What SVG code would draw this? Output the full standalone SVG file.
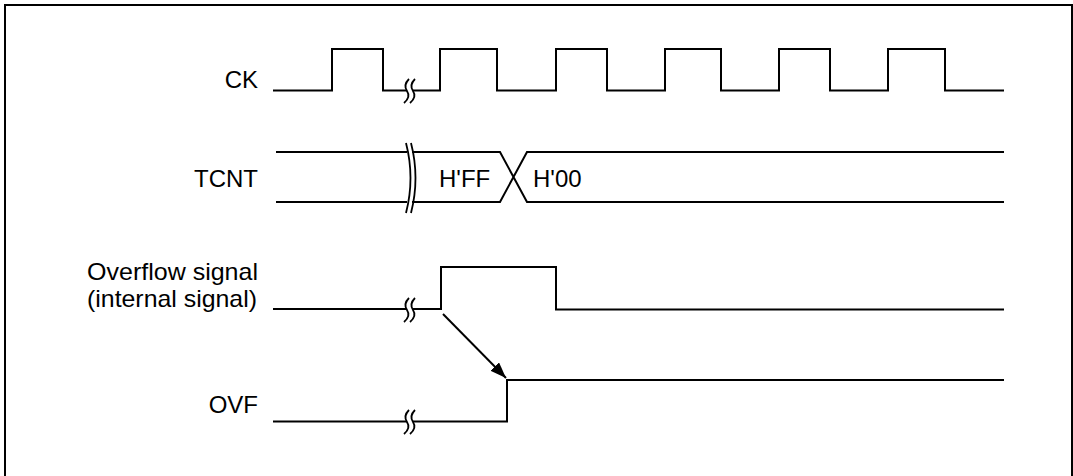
<svg xmlns="http://www.w3.org/2000/svg" width="1073" height="476" viewBox="0 0 1073 476">
<style>
.sig{fill:none;stroke:#000;stroke-width:2;stroke-linejoin:miter}
.brk{fill:none;stroke:#000;stroke-width:1.8}
.lbl{font-family:"Liberation Sans",Arial,Helvetica,sans-serif;font-size:24px;fill:#000}
.frame{fill:none;stroke:#000;stroke-width:2}
</style>
<defs>
<marker id="ah" viewBox="0 0 16 12" refX="16" refY="6" markerWidth="16" markerHeight="12" markerUnits="userSpaceOnUse" orient="auto">
<path d="M0,0 L16,6 L0,12 Z" fill="#000"/>
</marker>
</defs>
<rect width="1073" height="476" fill="#fff"/>
<path class="frame" d="M5,476 V5 H1072 V476"/>

<g id="ck">
<text class="lbl" x="258" y="88" text-anchor="end">CK</text>
<path class="sig" d="M273,90.5 H332 V49 H383 V90.5 H407"/>
<path class="sig" d="M413,90.5 H440 V49 H497 V90.5 H556 V49 H607 V90.5 H665 V49 H721 V90.5 H779 V49 H830 V90.5 H888 V49 H945 V90.5 H1004"/>
<path class="brk" d="M409,79 Q403,85 407,91 Q411,97 404,103 M415,79 Q409,85 413,91 Q417,97 410,103"/>
</g>

<g id="tcnt">
<text class="lbl" x="258" y="187" text-anchor="end">TCNT</text>
<path class="sig" d="M276,152 H407 M276,202 H407"/>
<path class="sig" d="M412,152 H500 L527,202 H1004 M412,202 H500 L527,152 H1004"/>
<path class="brk" d="M406,143 Q415,178 406,213 M411,143 Q420,178 411,213"/>
<text class="lbl" x="439" y="187">H'FF</text>
<text class="lbl" x="533" y="187">H'00</text>
</g>

<g id="overflow">
<text class="lbl" x="87" y="280" textLength="171" lengthAdjust="spacingAndGlyphs">Overflow signal</text>
<text class="lbl" x="87" y="307" textLength="170" lengthAdjust="spacingAndGlyphs">(internal signal)</text>
<path class="sig" d="M273,309 H407"/>
<path class="sig" d="M413,309 H441 V267 H556 V309.5 H1004"/>
<path class="brk" d="M409,298 Q403,304 407,310 Q411,316 404,322 M415,298 Q409,304 413,310 Q417,316 410,322"/>
</g>

<g id="ovf">
<text class="lbl" x="258" y="413" text-anchor="end">OVF</text>
<path class="sig" d="M273,421.5 H407"/>
<path class="sig" d="M413,421.5 H507 V380 H1004"/>
<path class="brk" d="M409,410 Q403,416 407,422 Q411,428 404,434 M415,410 Q409,416 413,422 Q417,428 410,434"/>
</g>

<g id="connectors">
<line x1="443" y1="314" x2="506" y2="378" stroke="#000" stroke-width="2" marker-end="url(#ah)"/>
</g>
</svg>
